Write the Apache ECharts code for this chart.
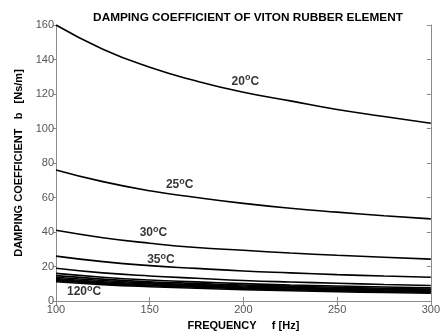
<!DOCTYPE html>
<html>
<head>
<meta charset="utf-8">
<script src="https://cdn.jsdelivr.net/npm/echarts@6/dist/echarts.min.js"></script>
<style>
  html, body { margin: 0; padding: 0; background: #fff; }
  #chart { width: 443px; height: 336px; }
</style>
</head>
<body>
<div id="chart"></div>
<script>
// Frequency samples (Hz)
const freq = [100, 125, 150, 175, 200, 225, 250, 275, 300];

// Damping coefficient b [Ns/m] per temperature
const b20 = [160, 146, 135.5, 127.5, 121, 116, 111, 107, 103];
const b25 = [76, 69.2, 63.9, 60.0, 56.6, 53.8, 51.5, 49.4, 47.6];
const b30 = [41, 36.7, 33.5, 31.0, 29.4, 27.8, 26.5, 25.4, 24.3];
const b35 = [26, 22.8, 20.5, 18.9, 17.4, 16.3, 15.3, 14.5, 13.8];

// Higher temperatures, up to 120 °C (lowest curve)
const bHigh = [
  [19.0, 16.3, 14.5, 13.2, 11.9, 11.0, 10.3, 9.6, 9.0],
  [16.0, 13.8, 12.2, 11.1, 10.1, 9.3, 8.7, 8.1, 7.6],
  [14.7, 12.7, 11.2, 10.2, 9.3, 8.6, 8.0, 7.4, 6.9],
  [13.8, 11.9, 10.5, 9.5, 8.7, 8.0, 7.4, 6.9, 6.4],
  [13.0, 11.2, 9.9, 8.9, 8.1, 7.5, 6.9, 6.4, 5.9],
  [12.4, 10.6, 9.3, 8.4, 7.6, 7.0, 6.4, 5.9, 5.4],
  [11.8, 10.1, 8.9, 8.0, 7.2, 6.6, 6.0, 5.5, 5.0],
  [11.2, 9.5, 8.3, 7.4, 6.6, 6.0, 5.4, 4.9, 4.5]
];

// Curve annotations: [frequency, b, temperature]
const tempLabels = [
  [201, 128, '20'],
  [166, 68, '25'],
  [152, 40, '30'],
  [156, 24.5, '35'],
  [115, 6, '120']
];

const xTicks = { min: 100, max: 300, interval: 50 };
const yTicks = { min: 0, max: 160, interval: 20 };

const FONT = 'Liberation Sans, Arial, sans-serif';
const FRAME = '#8a8a8a';

function curve(data) {
  return {
    type: 'line',
    data: freq.map((f, i) => [f, data[i]]),
    smooth: true,
    symbol: 'none',
    lineStyle: { color: '#000', width: 1.6 },
    silent: true
  };
}

const series = [b20, b25, b30, b35, ...bHigh].map(curve);

series.push({
  type: 'scatter',
  symbolSize: 0,
  silent: true,
  clip: false,
  data: tempLabels.map(t => ({ value: [t[0], t[1]], name: t[2] })),
  label: {
    show: true,
    position: 'inside',
    fontFamily: FONT,
    formatter: p => '{n|' + p.name + '}{s|o}{n|C}',
    rich: {
      n: { fontSize: 12, fontWeight: 'bold', color: '#000', fontFamily: FONT, verticalAlign: 'bottom', lineHeight: 14 },
      s: { fontSize: 9, fontWeight: 'bold', color: '#000', fontFamily: FONT, verticalAlign: 'top', lineHeight: 14, padding: [0, 0, 6, 0] }
    }
  }
});

const chart = echarts.init(document.getElementById('chart'));
chart.setOption({
  animation: false,
  backgroundColor: '#fff',
  title: {
    text: 'DAMPING COEFFICIENT OF VITON RUBBER ELEMENT',
    left: 243,
    textAlign: 'center',
    top: 7,
    textStyle: { fontFamily: FONT, fontSize: 11.8, fontWeight: 'bold', color: '#000' }
  },
  grid: { left: 56, right: 8, top: 25, bottom: 32 },
  xAxis: [
    {
      type: 'value', ...xTicks,
      name: 'FREQUENCY     f [Hz]',
      nameLocation: 'middle',
      nameGap: 19,
      nameTextStyle: { fontFamily: FONT, fontSize: 11, fontWeight: 'bold', color: '#000' },
      axisLine: { lineStyle: { color: FRAME, width: 1 } },
      axisTick: { inside: true, length: 4, lineStyle: { color: FRAME } },
      axisLabel: { fontFamily: FONT, fontSize: 11, color: '#555', margin: 3 },
      splitLine: { show: false }
    },
    {
      type: 'value', ...xTicks, position: 'top',
      axisLine: { lineStyle: { color: FRAME, width: 1 } },
      axisTick: { inside: true, length: 4, lineStyle: { color: FRAME } },
      axisLabel: { show: false },
      splitLine: { show: false }
    }
  ],
  yAxis: [
    {
      type: 'value', ...yTicks,
      name: 'DAMPING COEFFICIENT   b   [Ns/m]',
      nameLocation: 'middle',
      nameGap: 31,
      nameTextStyle: { fontFamily: FONT, fontSize: 11, fontWeight: 'bold', color: '#000' },
      axisLine: { show: true, lineStyle: { color: FRAME, width: 1 } },
      axisTick: { show: true, inside: false, length: 3, lineStyle: { color: FRAME } },
      axisLabel: { fontFamily: FONT, fontSize: 11, color: '#555', margin: 2 },
      splitLine: { show: false }
    },
    {
      type: 'value', ...yTicks, position: 'right',
      axisLine: { show: true, lineStyle: { color: FRAME, width: 1 } },
      axisTick: { show: true, inside: true, length: 4, lineStyle: { color: FRAME } },
      axisLabel: { show: false },
      splitLine: { show: false }
    }
  ],
  series
});
</script>
</body>
</html>
